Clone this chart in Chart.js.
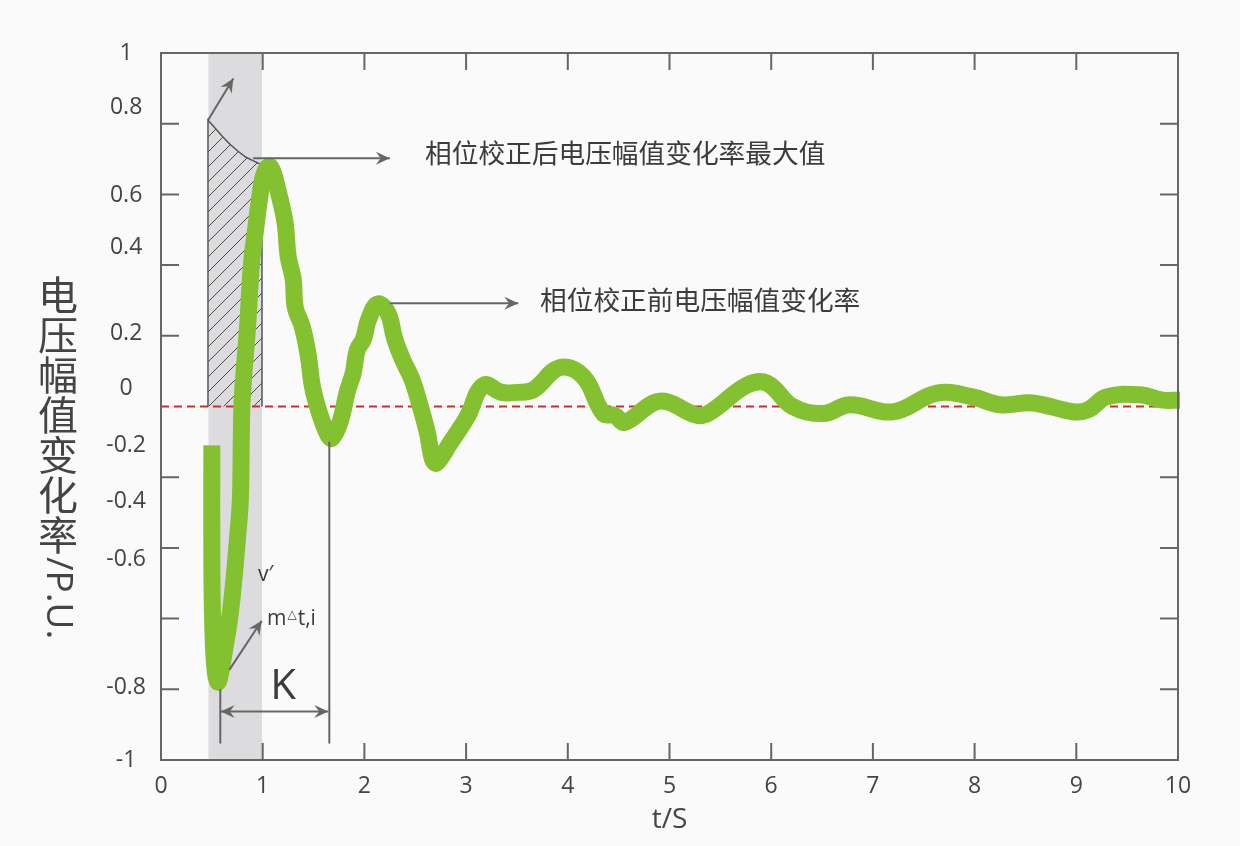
<!DOCTYPE html>
<html>
<head>
<meta charset="utf-8">
<script src="https://cdn.jsdelivr.net/npm/chart.js@4.4.0/dist/chart.umd.min.js"></script>
<style>
  html, body { margin: 0; padding: 0; background: #fafafa; }
</style>
</head>
<body>
<canvas id="myChart" width="1240" height="846"></canvas>
<script>
  // voltage amplitude change rate before phase correction (green curve)
  var timeS = [0.50, 0.50, 0.51, 0.53, 0.56, 0.595, 0.63, 0.67, 0.71, 0.75, 0.78, 0.79, 0.80, 0.85, 0.89, 0.93, 0.97, 1.01, 1.06, 1.10,
    1.15, 1.22, 1.25, 1.30, 1.32, 1.39, 1.45, 1.49, 1.56, 1.64, 1.68, 1.76, 1.83, 1.89, 1.93, 1.99, 2.04, 2.13, 2.23, 2.30,
    2.38, 2.47, 2.55, 2.62, 2.67, 2.71, 2.84, 3.01, 3.17, 3.35, 3.50, 3.66, 3.92, 4.15, 4.35, 4.46, 4.56, 4.84, 4.98, 5.27,
    5.40, 5.76, 5.96, 6.21, 6.51, 6.77, 7.20, 7.63, 7.98, 8.25, 8.57, 8.97, 9.11, 9.30, 9.63, 9.85, 10.02];
  var rateBefore = [-0.11, -0.45, -0.63, -0.74, -0.78, -0.74, -0.68, -0.61, -0.51, -0.38, -0.265, -0.08, 0.03, 0.22, 0.405, 0.50, 0.59, 0.655, 0.68, 0.665,
    0.612, 0.52, 0.425, 0.36, 0.28, 0.225, 0.14, 0.055, -0.02, -0.08, -0.09, -0.045, 0.04, 0.095, 0.16, 0.19, 0.245, 0.29, 0.265, 0.19,
    0.13, 0.075, 0.0, -0.075, -0.15, -0.16, -0.105, -0.03, 0.06, 0.04, 0.04, 0.047, 0.11, 0.085, -0.02, -0.025, -0.045, 0.01, 0.013, -0.025,
    -0.016, 0.06, 0.066, 0.0, -0.02, 0.005, -0.015, 0.038, 0.027, 0.005, 0.01, -0.015, -0.01, 0.027, 0.033, 0.018, 0.018];

  // y tick labels, and where the source figure puts them (not on the tick marks)
  var yTickLabels = ['1', '0.8', '0.6', '0.4', '0.2', '0', '-0.2', '-0.4', '-0.6', '-0.8', '-1'];
  var yTickLabelAt = [1, 0.847, 0.598, 0.451, 0.208, 0.052, -0.109, -0.27, -0.434, -0.794, -1];
  var yTickMarks = [0.8, 0.6, 0.4, 0.2, -0.2, -0.4, -0.6, -0.8];
  var xTickMarks = [1, 2, 3, 4, 5, 6, 7, 8, 9];

  // grey window and the hatched area under the corrected maximum
  var bandT = [0.465, 0.995];
  var hatchT = [0.462, 0.462, 0.531, 0.600, 0.678, 0.757, 0.836, 0.914, 0.993, 0.993];
  var hatchV = [0, 0.810, 0.788, 0.765, 0.742, 0.722, 0.705, 0.694, 0.683, 0];

  // arrows: [x1, y1, x2, y2, head at both ends]
  var arrows = [
    [0.462, 0.81, 0.711, 0.928, false],
    [0.905, 0.702, 2.25, 0.702, false],
    [2.25, 0.292, 3.513, 0.292, false],
    [0.672, -0.745, 0.99, -0.606, false],
    [0.587, -0.863, 1.645, -0.863, true]
  ];
  // plain guide lines: [x1, y1, x2, y2]
  var guides = [
    [0.583, -0.80, 0.583, -0.953],
    [1.655, -0.10, 1.655, -0.953]
  ];
  var notes = [
    { text: '相位校正后电压幅值变化率最大值', x: 2.596, y: 0.717, size: 26.7, align: 'left', font: 'Noto Sans CJK SC' },
    { text: '相位校正前电压幅值变化率', x: 3.727, y: 0.301, size: 26.7, align: 'left', font: 'Noto Sans CJK SC' },
    { text: 'K', x: 1.20, y: -0.793, size: 42, align: 'center', font: 'Open Sans' },
    { text: 'v′', x: 0.954, y: -0.477, size: 21, align: 'left', font: 'Open Sans' }
  ];
  var yTitleCjk = '电压幅值变化率';
  var yTitleLatin = '/P.U.';

  function zip(xs, ys) {
    return xs.map(function (x, i) { return { x: x, y: ys[i] }; });
  }

  var canvas = document.getElementById('myChart');
  var ctx = canvas.getContext('2d');

  function makeHatch() {
    var s = 15;
    var cv = document.createElement('canvas');
    cv.width = s; cv.height = s;
    var g = cv.getContext('2d');
    g.strokeStyle = '#4a4a4a';
    g.lineWidth = 1;
    g.beginPath();
    g.moveTo(0, s); g.lineTo(s, 0);
    g.moveTo(-2, 2); g.lineTo(2, -2);
    g.moveTo(s - 2, s + 2); g.lineTo(s + 2, s - 2);
    g.stroke();
    return ctx.createPattern(cv, 'repeat');
  }

  function head(c, x1, y1, x2, y2) {
    var a = Math.atan2(y2 - y1, x2 - x1);
    var len = 14, half = 6.5;
    var cos = Math.cos(a), sin = Math.sin(a);
    c.beginPath();
    c.moveTo(x2, y2);
    c.lineTo(x2 - len * cos + half * sin, y2 - len * sin - half * cos);
    c.lineTo(x2 - len * 0.65 * cos, y2 - len * 0.65 * sin);
    c.lineTo(x2 - len * cos - half * sin, y2 - len * sin + half * cos);
    c.closePath();
    c.fill();
  }

  var frame = {
    id: 'frame',
    afterDatasetsDraw: function (chart) {
      var c = chart.ctx, a = chart.chartArea;
      var xs = chart.scales.x, ys = chart.scales.y;
      c.save();
      c.strokeStyle = '#666';
      c.fillStyle = '#666';
      c.lineWidth = 2;
      c.strokeRect(a.left, a.top, a.right - a.left, a.bottom - a.top);
      c.beginPath();
      xTickMarks.forEach(function (v) {
        var px = xs.getPixelForValue(v);
        c.moveTo(px, a.bottom); c.lineTo(px, a.bottom - 17);
        c.moveTo(px, a.top); c.lineTo(px, a.top + 17);
      });
      yTickMarks.forEach(function (v) {
        var py = ys.getPixelForValue(v);
        c.moveTo(a.left, py); c.lineTo(a.left + 18, py);
        c.moveTo(a.right, py); c.lineTo(a.right - 18, py);
      });
      c.stroke();

      // guides and arrows
      c.lineWidth = 2;
      c.beginPath();
      guides.forEach(function (g) {
        c.moveTo(xs.getPixelForValue(g[0]), ys.getPixelForValue(g[1]));
        c.lineTo(xs.getPixelForValue(g[2]), ys.getPixelForValue(g[3]));
      });
      c.stroke();
      arrows.forEach(function (r) {
        var x1 = xs.getPixelForValue(r[0]), y1 = ys.getPixelForValue(r[1]);
        var x2 = xs.getPixelForValue(r[2]), y2 = ys.getPixelForValue(r[3]);
        c.beginPath();
        c.moveTo(x1, y1); c.lineTo(x2, y2);
        c.stroke();
        head(c, x1, y1, x2, y2);
        if (r[4]) head(c, x2, y2, x1, y1);
      });

      // text notes
      c.fillStyle = '#3c3c3c';
      c.textBaseline = 'middle';
      notes.forEach(function (n) {
        c.font = n.size + 'px "' + n.font + '"';
        c.textAlign = n.align;
        c.fillText(n.text, xs.getPixelForValue(n.x), ys.getPixelForValue(n.y));
      });
      // m△t,i
      var mx = xs.getPixelForValue(1.042), my = ys.getPixelForValue(-0.601);
      c.textAlign = 'left';
      c.font = '21px "Open Sans"';
      c.fillText('m', mx, my);
      mx += c.measureText('m').width + 1;
      c.font = '12px "DejaVu Sans"';
      c.fillText('△', mx, my - 4);
      mx += c.measureText('△').width + 1;
      c.font = '21px "Open Sans"';
      c.fillText('t,i', mx, my);

      // vertical y-axis title
      c.fillStyle = '#444';
      c.font = '40px "Noto Sans CJK SC"';
      c.textAlign = 'center';
      for (var i = 0; i < yTitleCjk.length; i++) {
        c.fillText(yTitleCjk[i], 58, 295 + 40 * i);
      }
      c.translate(58, 557);
      c.rotate(Math.PI / 2);
      c.textAlign = 'left';
      c.font = '37px "Open Sans"';
      c.fillText(yTitleLatin, 0, 0);
      c.restore();
    }
  };

  Chart.defaults.font.family = "'Open Sans', 'Noto Sans CJK SC', sans-serif";
  Chart.defaults.color = '#444';

  var chart = new Chart(canvas, {
    type: 'line',
    data: {
      datasets: [
        {
          label: '相位校正前电压幅值变化率',
          data: zip(timeS, rateBefore),
          borderColor: '#84c130',
          borderWidth: 17,
          borderJoinStyle: 'round',
          tension: 0.4,
          pointRadius: 0,
          clip: 8,
          order: 1
        },
        {
          label: 'zero',
          data: [{ x: 0, y: 0 }, { x: 10, y: 0 }],
          borderColor: '#c9302c',
          borderWidth: 2,
          borderDash: [8, 5],
          pointRadius: 0,
          order: 2
        },
        {
          label: 'hatch',
          data: zip(hatchT, hatchV),
          borderColor: '#555',
          borderWidth: 1.5,
          backgroundColor: makeHatch(),
          fill: 'origin',
          tension: 0,
          pointRadius: 0,
          order: 3
        },
        {
          label: 'band',
          data: [{ x: bandT[0], y: 1 }, { x: bandT[1], y: 1 }],
          borderColor: 'rgba(0,0,0,0)',
          borderWidth: 0,
          backgroundColor: '#dcdcdf',
          fill: { value: -1 },
          pointRadius: 0,
          order: 4
        }
      ]
    },
    options: {
      responsive: false,
      animation: false,
      devicePixelRatio: 1,
      layout: { padding: { top: 53, right: 62, left: 0, bottom: 0 } },
      plugins: {
        legend: { display: false },
        tooltip: { enabled: false }
      },
      scales: {
        x: {
          type: 'linear',
          min: 0,
          max: 10,
          grid: { display: false, drawTicks: false },
          border: { display: false },
          ticks: { stepSize: 1, padding: 13, font: { size: 23 }, color: '#444' },
          title: { display: true, text: 't/S', font: { size: 28 }, color: '#444', padding: { top: 0, bottom: 9 } },
          afterFit: function (s) { s.height = 86; }
        },
        y: {
          type: 'linear',
          min: -1,
          max: 1,
          grid: { display: false, drawTicks: false },
          border: { display: false },
          ticks: {
            autoSkip: false,
            crossAlign: 'center',
            padding: 15,
            font: { size: 23 },
            color: '#444',
            callback: function (v, i) { return yTickLabels[i]; }
          },
          afterBuildTicks: function (s) {
            s.ticks = yTickLabelAt.map(function (v) { return { value: v }; });
          },
          afterFit: function (s) { s.width = 161; }
        }
      }
    },
    plugins: [frame]
  });
</script>
</body>
</html>
